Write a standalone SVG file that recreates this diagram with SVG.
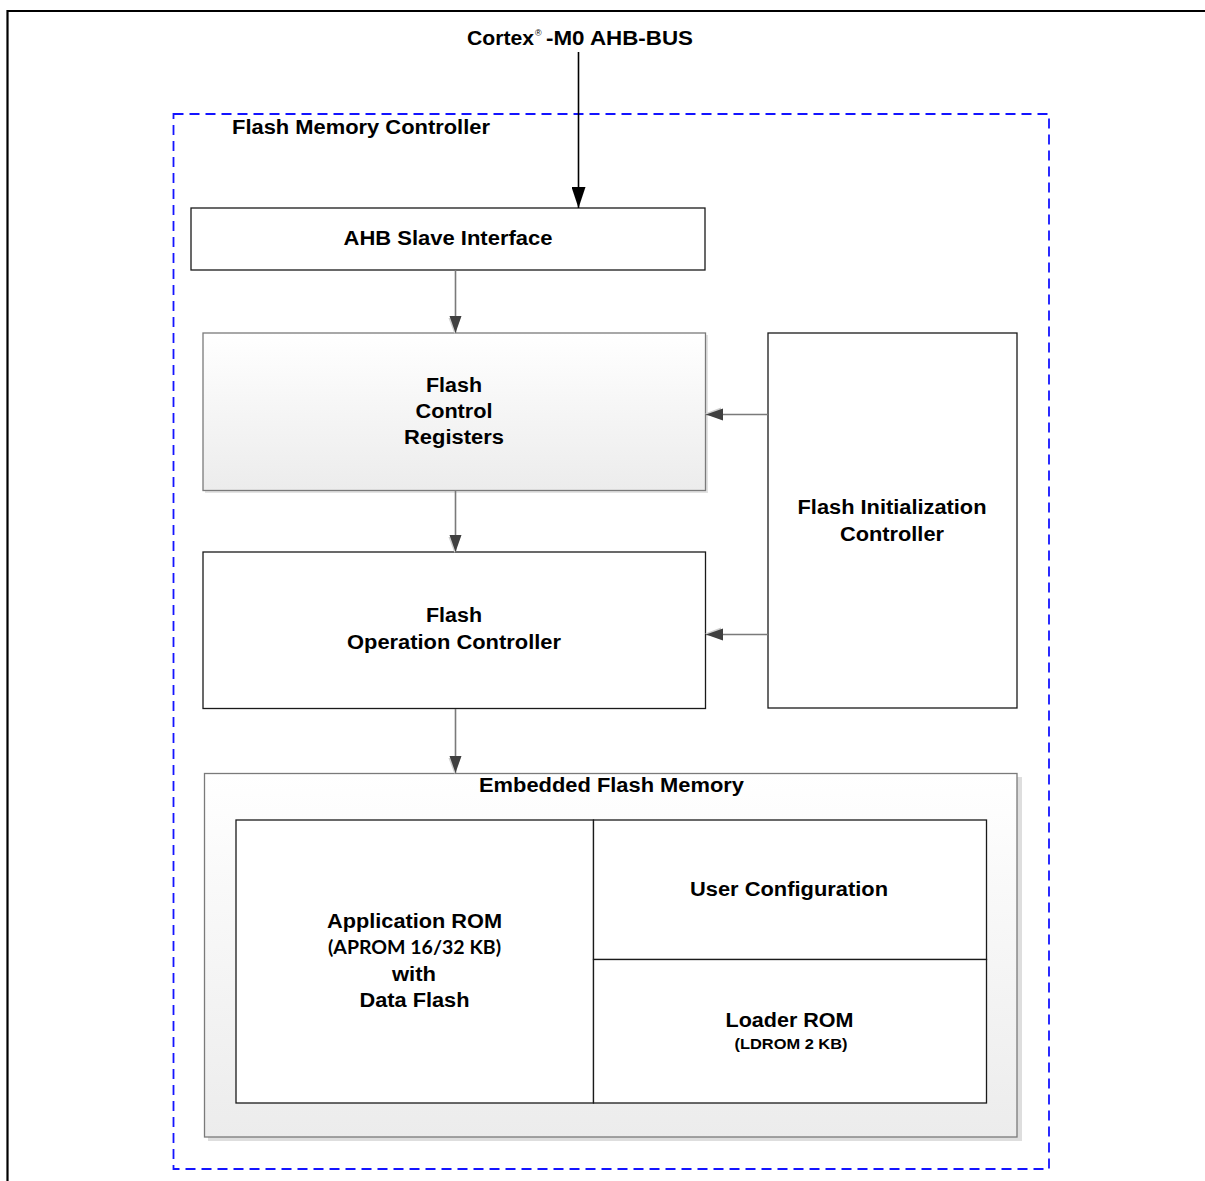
<svg xmlns="http://www.w3.org/2000/svg" width="1205" height="1181" viewBox="0 0 1205 1181">
  <style>
    text { font-family: "Liberation Sans", Arial, sans-serif; font-weight: bold; fill: #000; }
    .t18 { font-size: 20px; }
    .small { font-size: 15.5px; }
    .cal { font-family: Lato, "Liberation Sans", sans-serif; font-size: 18px; font-weight: bold; }
    .box { fill: #fff; stroke: #1a1a1a; stroke-width: 1.3; }
    .gbox { fill: url(#paleGrad); stroke: #7a7a7a; stroke-width: 1.3; }
    .shadow { fill: #c8c8c8; }
    .link { stroke: #7a7a7a; stroke-width: 1.6; fill: none; marker-end: url(#grayHead); }
  </style>
  <defs>
    <linearGradient id="paleGrad" x1="0" y1="0" x2="0" y2="1">
      <stop offset="0" stop-color="#ffffff"/>
      <stop offset="1" stop-color="#ececec"/>
    </linearGradient>
    <marker id="grayHead" markerUnits="userSpaceOnUse" markerWidth="18" markerHeight="14" refX="17" refY="6.5" orient="auto">
      <path d="M2,1.5 L18,7.5 L2,13.5 Z" fill="#d0d0d0"/>
      <path d="M0,0.5 L17,6.5 L0,12.5 Z" fill="#404040"/>
    </marker>
    <marker id="blackHead" markerUnits="userSpaceOnUse" markerWidth="22" markerHeight="14" refX="21" refY="7" orient="auto">
      <path d="M0,0 L21,7 L0,14 Z" fill="#000"/>
    </marker>
  </defs>

  <!-- page frame -->
  <path d="M7.5,1181 V11 H1205" fill="none" stroke="#000" stroke-width="2.2"/>

  <!-- bus label -->
  <g id="bus-label">
    <text class="t18" x="467" y="45" textLength="67" lengthAdjust="spacingAndGlyphs">Cortex</text>
    <text x="535" y="36" style="font-size:9px;font-weight:normal">®</text>
    <text class="t18" x="546" y="45" textLength="147" lengthAdjust="spacingAndGlyphs">-M0 AHB-BUS</text>
  </g>

  <!-- controller boundary -->
  <g id="flash-memory-controller">
    <rect x="173.5" y="114" width="875.5" height="1055" fill="none" stroke="#1414ff" stroke-width="1.8" stroke-dasharray="10,6"/>
    <text class="t18" x="232" y="133.5" textLength="258" lengthAdjust="spacingAndGlyphs">Flash Memory Controller</text>
  </g>

  <g id="ahb-slave-interface">
    <rect class="box" x="191" y="208" width="514" height="62"/>
    <text class="t18" x="448" y="245" text-anchor="middle" textLength="209" lengthAdjust="spacingAndGlyphs">AHB Slave Interface</text>
  </g>

  <g id="flash-control-registers">
    <rect class="shadow" x="205" y="335" width="503" height="158" opacity="0.5"/>
    <rect class="gbox" x="203" y="333" width="502.5" height="157.5"/>
    <text class="t18" x="454" y="391.5" text-anchor="middle" textLength="56" lengthAdjust="spacingAndGlyphs">Flash</text>
    <text class="t18" x="454" y="418" text-anchor="middle" textLength="77" lengthAdjust="spacingAndGlyphs">Control</text>
    <text class="t18" x="454" y="444" text-anchor="middle" textLength="100" lengthAdjust="spacingAndGlyphs">Registers</text>
  </g>

  <g id="flash-initialization-controller">
    <rect class="box" x="768" y="333" width="249" height="375"/>
    <text class="t18" x="892" y="514" text-anchor="middle" textLength="189" lengthAdjust="spacingAndGlyphs">Flash Initialization</text>
    <text class="t18" x="892" y="540.5" text-anchor="middle" textLength="104" lengthAdjust="spacingAndGlyphs">Controller</text>
  </g>

  <g id="flash-operation-controller">
    <rect class="box" x="203" y="552" width="502.5" height="156.5"/>
    <text class="t18" x="454" y="622" text-anchor="middle" textLength="56" lengthAdjust="spacingAndGlyphs">Flash</text>
    <text class="t18" x="454" y="649" text-anchor="middle" textLength="214" lengthAdjust="spacingAndGlyphs">Operation Controller</text>
  </g>

  <g id="embedded-flash-memory">
    <rect class="shadow" x="208" y="777" width="814" height="364" opacity="0.6"/>
    <rect class="gbox" x="204.5" y="773.5" width="812.5" height="363.5"/>
    <text class="t18" x="611.5" y="792" text-anchor="middle" textLength="265" lengthAdjust="spacingAndGlyphs">Embedded Flash Memory</text>
  </g>

  <g id="application-rom">
    <rect class="box" x="236" y="820" width="357.5" height="283"/>
    <text class="t18" x="414.5" y="927.5" text-anchor="middle" textLength="175" lengthAdjust="spacingAndGlyphs">Application ROM</text>
    <text class="cal" x="414.5" y="954" text-anchor="middle" textLength="173" lengthAdjust="spacingAndGlyphs">(APROM 16/32 KB)</text>
    <text class="t18" x="414" y="980.5" text-anchor="middle" textLength="44" lengthAdjust="spacingAndGlyphs">with</text>
    <text class="t18" x="414.5" y="1007" text-anchor="middle" textLength="110" lengthAdjust="spacingAndGlyphs">Data Flash</text>
  </g>

  <g id="user-configuration">
    <rect class="box" x="593.5" y="820" width="393" height="139.5"/>
    <text class="t18" x="789" y="896" text-anchor="middle" textLength="198" lengthAdjust="spacingAndGlyphs">User Configuration</text>
  </g>

  <g id="loader-rom">
    <rect class="box" x="593.5" y="959.5" width="393" height="143.5"/>
    <text class="t18" x="789.5" y="1027" text-anchor="middle" textLength="128" lengthAdjust="spacingAndGlyphs">Loader ROM</text>
    <text class="small" x="791" y="1049" text-anchor="middle" textLength="113" lengthAdjust="spacingAndGlyphs">(LDROM 2 KB)</text>
  </g>

  <!-- connectors -->
  <g id="connectors">
    <line x1="578.5" y1="52" x2="578.5" y2="208" stroke="#000" stroke-width="1.6" marker-end="url(#blackHead)"/>
    <line class="link" x1="455.5" y1="270" x2="455.5" y2="333"/>
    <line class="link" x1="455.5" y1="491" x2="455.5" y2="552"/>
    <line class="link" x1="455.5" y1="709" x2="455.5" y2="773"/>
    <line class="link" x1="768" y1="414.5" x2="706" y2="414.5"/>
    <line class="link" x1="768" y1="634.5" x2="706" y2="634.5"/>
  </g>
</svg>
